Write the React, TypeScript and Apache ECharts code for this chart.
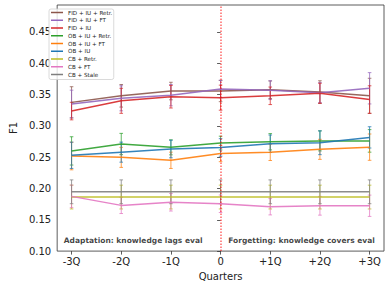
import React, { useEffect, useRef } from "react";
import * as echarts from "echarts";

const quarters = [-3, -2, -1, 0, 1, 2, 3];
const quarterLabels = ["-3Q", "-2Q", "-1Q", "0", "+1Q", "+2Q", "+3Q"];
const yTicks = [0.1, 0.15, 0.2, 0.25, 0.3, 0.35, 0.4, 0.45];

const seriesNames = [
  "FID + IU + Retr.",
  "FID + IU + FT",
  "FID + IU",
  "OB + IU + Retr.",
  "OB + IU + FT",
  "OB + IU",
  "CB + Retr.",
  "CB + FT",
  "CB + Stale",
];
const seriesColors = [
  "#8c564b",
  "#9467bd",
  "#d62728",
  "#2ca02c",
  "#ff7f0e",
  "#1f77b4",
  "#bcbd22",
  "#e377c2",
  "#7f7f7f",
];

const fidIuRetr = [0.3375, 0.348, 0.3556, 0.3556, 0.3577, 0.354, 0.348];
const fidIuRetrErr = [0.025, 0.018, 0.014, 0.017, 0.014, 0.018, 0.028];
const fidIuFt = [0.335, 0.344, 0.349, 0.3588, 0.357, 0.353, 0.36];
const fidIuFtErr = [0.022, 0.02, 0.017, 0.014, 0.015, 0.016, 0.025];
const fidIu = [0.3236, 0.34, 0.3465, 0.345, 0.348, 0.352, 0.342];
const fidIuErr = [0.014, 0.02, 0.018, 0.02, 0.014, 0.016, 0.022];
const obIuRetr = [0.26, 0.271, 0.2657, 0.2725, 0.2746, 0.276, 0.276];
const obIuRetrErr = [0.0226, 0.017, 0.012, 0.011, 0.013, 0.016, 0.018];
const obIuFt = [0.2518, 0.2497, 0.245, 0.2558, 0.2577, 0.2625, 0.266];
const obIuFtErr = [0.022, 0.016, 0.013, 0.013, 0.013, 0.016, 0.021];
const obIu = [0.253, 0.258, 0.263, 0.2655, 0.2714, 0.273, 0.2816];
const obIuErr = [0.021, 0.016, 0.014, 0.014, 0.014, 0.019, 0.017];
const cbRetr = [0.1863, 0.1863, 0.1863, 0.1863, 0.1863, 0.1863, 0.1863];
const cbRetrErr = [0.019, 0.019, 0.019, 0.019, 0.019, 0.019, 0.019];
const cbFt = [0.1874, 0.173, 0.178, 0.1756, 0.1708, 0.1724, 0.1724];
const cbFtErr = [0.018, 0.013, 0.014, 0.014, 0.013, 0.015, 0.017];
const cbStale = [0.1947, 0.1947, 0.1947, 0.1947, 0.1947, 0.1947, 0.1947];
const cbStaleErr = [0.019, 0.019, 0.019, 0.019, 0.019, 0.019, 0.019];

const seriesValues = [fidIuRetr, fidIuFt, fidIu, obIuRetr, obIuFt, obIu, cbRetr, cbFt, cbStale];
const seriesErrors = [fidIuRetrErr, fidIuFtErr, fidIuErr, obIuRetrErr, obIuFtErr, obIuErr, cbRetrErr, cbFtErr, cbStaleErr];

const annotations = [
  { x: -1.76, y: 0.1165, text: "Adaptation: knowledge lags eval" },
  { x: 1.63, y: 0.1165, text: "Forgetting: knowledge covers eval" },
];
const boundaryX = 0;

const FONT = "DejaVu Sans";

export default function App() {
  const ref = useRef<HTMLDivElement>(null);
  useEffect(() => {
    if (!ref.current) return;
    const chart = echarts.init(ref.current, undefined, { renderer: "svg" });
    const series: any[] = [];
    seriesNames.forEach((name, i) => {
      const color = seriesColors[i];
      series.push({
        type: "custom",
        name: name + " err",
        silent: true,
        encode: { x: 0, y: [1, 2] },
        data: quarters.map((q, j) => [q, seriesValues[i][j] - seriesErrors[i][j], seriesValues[i][j] + seriesErrors[i][j]]),
        renderItem: (params: any, api: any) => {
          const x = api.value(0);
          const top = api.coord([x, api.value(2)]);
          const bot = api.coord([x, api.value(1)]);
          const w = 1.8;
          const style = { stroke: color, lineWidth: 1, opacity: 0.75 };
          return {
            type: "group",
            children: [
              { type: "line", shape: { x1: top[0], y1: top[1], x2: bot[0], y2: bot[1] }, style },
              { type: "line", shape: { x1: top[0] - w, y1: top[1], x2: top[0] + w, y2: top[1] }, style },
              { type: "line", shape: { x1: bot[0] - w, y1: bot[1], x2: bot[0] + w, y2: bot[1] }, style },
            ],
          };
        },
        z: 2,
      });
      series.push({
        type: "line",
        name,
        data: quarters.map((q, j) => [q, seriesValues[i][j]]),
        symbol: "none",
        lineStyle: { color, width: 1.5, opacity: 0.9 },
        itemStyle: { color },
        z: 3,
      });
    });
    series.push({
      type: "line",
      name: "boundary",
      data: [],
      markLine: {
        silent: true,
        symbol: "none",
        label: { show: false },
        lineStyle: { color: "rgba(255,0,0,0.6)", width: 1.5, type: [1.5, 1.5] },
        data: [{ xAxis: boundaryX }],
      },
      z: 1,
    });
    series.push({
      type: "scatter",
      name: "annotations",
      silent: true,
      symbolSize: 0,
      data: annotations.map((a) => [a.x, a.y, a.text]),
      label: {
        show: true,
        position: "inside",
        formatter: (p: any) => p.data[2],
        fontFamily: FONT,
        fontWeight: "bold",
        fontSize: 7.5,
        color: "#111",
      },
      z: 5,
    });

    chart.setOption({
      animation: false,
      backgroundColor: "#fff",
      grid: {
        left: 48,
        right: 6,
        top: 5,
        bottom: 34.5,
        show: true,
        borderColor: "#333",
        borderWidth: 0.8,
        backgroundColor: "transparent",
      },
      legend: {
        data: seriesNames,
        orient: "vertical",
        left: 49,
        top: 9,
        padding: [0.5, 1.5, 2, 2],
        icon: "path://M0,0 L24,0 L24,3 L0,3 Z",
        itemWidth: 12,
        itemHeight: 6,
        itemGap: 1.75,
        borderColor: "#d0d0d0",
        borderWidth: 0.8,
        borderRadius: 2,
        backgroundColor: "rgba(255,255,255,0.8)",
        textStyle: { fontFamily: FONT, fontSize: 5.6, color: "#222", lineHeight: 6 },
        selectedMode: false,
      },
      xAxis: {
        type: "value",
        min: -3.29,
        max: 3.29,
        name: "Quarters",
        nameLocation: "middle",
        nameGap: 17.5,
        nameTextStyle: { fontFamily: FONT, fontSize: 10, color: "#222" },
        axisLine: { show: false },
        axisTick: { show: true, length: 3.5, lineStyle: { color: "#333", width: 0.8 }, customValues: quarters },
        axisLabel: {
          fontFamily: FONT,
          fontSize: 10,
          color: "#222",
          margin: 5,
          customValues: quarters,
          formatter: (v: number) => {
            const idx = quarters.indexOf(Math.round(v));
            return idx >= 0 ? quarterLabels[idx] : "";
          },
        },
        splitLine: { show: false },
      },
      yAxis: {
        type: "value",
        min: 0.1,
        max: 0.493,
        name: "F1",
        nameLocation: "middle",
        nameGap: 33,
        nameTextStyle: { fontFamily: FONT, fontSize: 10, color: "#222" },
        axisLine: { show: false },
        axisTick: { show: true, length: 3.5, lineStyle: { color: "#333", width: 0.8 }, customValues: yTicks },
        axisLabel: {
          fontFamily: FONT,
          fontSize: 10,
          color: "#222",
          margin: 6,
          customValues: yTicks,
          formatter: (v: number) => v.toFixed(2),
        },
        splitLine: { show: false },
      },
      series,
    });
    return () => chart.dispose();
  }, []);
  return <div ref={ref} style={{ position: "fixed", left: 0, top: 0, width: 390, height: 286 }} />;
}
